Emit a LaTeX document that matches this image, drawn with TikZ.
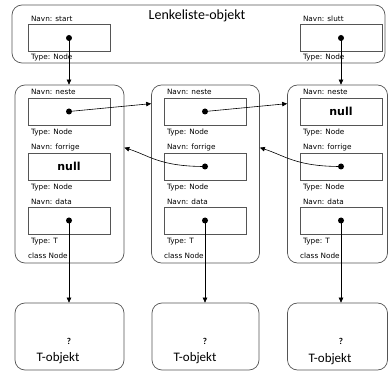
\documentclass[tikz,border=0pt]{standalone}
\usepackage{fontspec}
\setmainfont{Carlito}
\newfontfamily\lblfont{DejaVu Sans}
\usepackage{xcolor}
\definecolor{boxgray}{RGB}{85,85,85}
\usepackage{tikz}
\usetikzlibrary{calc,arrows.meta,positioning}

\begin{document}
\begin{tikzpicture}
[	x=1pt, y=-1pt,
	objbox/.style = {draw=boxgray, rounded corners=10pt, line width=0.7pt},
	varbox/.style = {draw=boxgray, minimum width=82pt, minimum height=27pt, inner sep=0},
	lbl/.style = {font=\lblfont\fontsize{7.3}{8}\selectfont, inner sep=0, text height=5.3pt, text depth=1.5pt, anchor=west},
	nullval/.style = {font=\lblfont\bfseries\fontsize{11}{12}\selectfont},
	dot/.style = {circle, fill, inner sep=0, minimum size=6pt},
	ptr/.style = {-{Triangle[length=5pt,width=4.5pt]}, line width=0.6pt}
]
\useasboundingbox (0,0) rectangle (388,371);

% Lenkeliste-objekt
\node[objbox, minimum width=373pt, minimum height=58pt] (liste) at (198.5,34) {};
\node[font=\fontsize{14}{16}\selectfont, inner sep=0] (tittel) at (197,16) {Lenkeliste-objekt};
\node[varbox] (start) at (69,38) {};
\node[varbox] (slutt) at (341,38) {};
\node[lbl, above right=1.3pt and 3pt of start.north west] (startnavn) {Navn: start};
\node[lbl, below right=2pt and 3pt of start.south west] (starttype) {Type: Node};
\node[lbl, above right=1.3pt and 3pt of slutt.north west] (sluttnavn) {Navn: slutt};
\node[lbl, below right=2pt and 3pt of slutt.south west] (slutttype) {Type: Node};
\node[dot] (startptr) at (start) {};
\node[dot] (sluttptr) at (slutt) {};

% class Node
\node[objbox, minimum width=109pt, minimum height=178pt] (node1) at (69.5,174) {};
\node[objbox, minimum width=108pt, minimum height=178pt] (node2) at (205.5,174) {};
\node[objbox, minimum width=100pt, minimum height=178pt] (node3) at (337.5,174) {};

\node[varbox] (neste1) at (69,111.5) {};
\node[varbox, nullval] (forrige1) at (69,166.5) {null};
\node[varbox] (data1) at (69,220.5) {};
\node[varbox] (neste2) at (205,111.5) {};
\node[varbox] (forrige2) at (205,166.5) {};
\node[varbox] (data2) at (205,220.5) {};
\node[varbox, nullval] (neste3) at (341,111.5) {null};
\node[varbox] (forrige3) at (341,166.5) {};
\node[varbox] (data3) at (341,220.5) {};

\node[lbl, above right=1.3pt and 3pt of neste1.north west] (nestenavn1) {Navn: neste};
\node[lbl, below right=4.2pt and 3pt of neste1.south west] (nestetype1) {Type: Node};
\node[lbl, above right=1.3pt and 3pt of forrige1.north west] (forrigenavn1) {Navn: forrige};
\node[lbl, below right=4.2pt and 3pt of forrige1.south west] (forrigetype1) {Type: Node};
\node[lbl, above right=0.8pt and 3pt of data1.north west] (datanavn1) {Navn: data};
\node[lbl, below right=4.2pt and 3pt of data1.south west] (datatype1) {Type: T};
\node[lbl] (klasse1) at (28,257) {class Node};

\node[lbl, above right=1.3pt and 3pt of neste2.north west] (nestenavn2) {Navn: neste};
\node[lbl, below right=4.2pt and 3pt of neste2.south west] (nestetype2) {Type: Node};
\node[lbl, above right=1.3pt and 3pt of forrige2.north west] (forrigenavn2) {Navn: forrige};
\node[lbl, below right=4.2pt and 3pt of forrige2.south west] (forrigetype2) {Type: Node};
\node[lbl, above right=0.8pt and 3pt of data2.north west] (datanavn2) {Navn: data};
\node[lbl, below right=4.2pt and 3pt of data2.south west] (datatype2) {Type: T};
\node[lbl] (klasse2) at (164,257) {class Node};

\node[lbl, above right=1.3pt and 3pt of neste3.north west] (nestenavn3) {Navn: neste};
\node[lbl, below right=4.2pt and 3pt of neste3.south west] (nestetype3) {Type: Node};
\node[lbl, above right=1.3pt and 3pt of forrige3.north west] (forrigenavn3) {Navn: forrige};
\node[lbl, below right=4.2pt and 3pt of forrige3.south west] (forrigetype3) {Type: Node};
\node[lbl, above right=0.8pt and 3pt of data3.north west] (datanavn3) {Navn: data};
\node[lbl, below right=4.2pt and 3pt of data3.south west] (datatype3) {Type: T};
\node[lbl] (klasse3) at (300,257) {class Node};

\node[dot] (nesteptr1) at (neste1) {};
\node[dot] (dataptr1) at (data1) {};
\node[dot] (nesteptr2) at (neste2) {};
\node[dot] (forrigeptr2) at (forrige2) {};
\node[dot] (dataptr2) at (data2) {};
\node[dot] (forrigeptr3) at (forrige3) {};
\node[dot] (dataptr3) at (data3) {};

% T-objekt
\node[objbox, minimum width=109pt, minimum height=67pt] (tobj1) at (69.5,336.5) {};
\node[objbox, minimum width=107pt, minimum height=67pt] (tobj2) at (205.5,336.5) {};
\node[objbox, minimum width=100pt, minimum height=67pt] (tobj3) at (337.5,336.5) {};
\node[font=\bfseries\fontsize{9}{10}\selectfont] (ukjent1) at (69,341) {?};
\node[font=\bfseries\fontsize{9}{10}\selectfont] (ukjent2) at (205,341) {?};
\node[font=\bfseries\fontsize{9}{10}\selectfont] (ukjent3) at (341,341) {?};
\node[font=\fontsize{13}{15}\selectfont, inner sep=0] (tnavn1) at (58,358) {T-objekt};
\node[font=\fontsize{13}{15}\selectfont, inner sep=0] (tnavn2) at (195,358) {T-objekt};
\node[font=\fontsize{13}{15}\selectfont, inner sep=0] (tnavn3) at (330,359) {T-objekt};

\draw[ptr] (startptr.center) -- (startptr.center |- node1.north);
\draw[ptr] (sluttptr.center) -- (sluttptr.center |- node3.north);
\draw[ptr] (nesteptr1.center) -- ($(node2.north west)+(0,19)$);
\draw[ptr] (nesteptr2.center) -- ($(node3.north west)+(0,19)$);
\draw[ptr] (forrigeptr3.center) .. controls +(-45,0) and +(25,8) .. ($(node2.north east)+(0,63)$);
\draw[ptr] (forrigeptr2.center) .. controls +(-45,0) and +(25,8) .. ($(node1.north east)+(0,63)$);
\draw[ptr] (dataptr1.center) -- (dataptr1.center |- tobj1.north);
\draw[ptr] (dataptr2.center) -- (dataptr2.center |- tobj2.north);
\draw[ptr] (dataptr3.center) -- (dataptr3.center |- tobj3.north);

\end{tikzpicture}
\end{document}
